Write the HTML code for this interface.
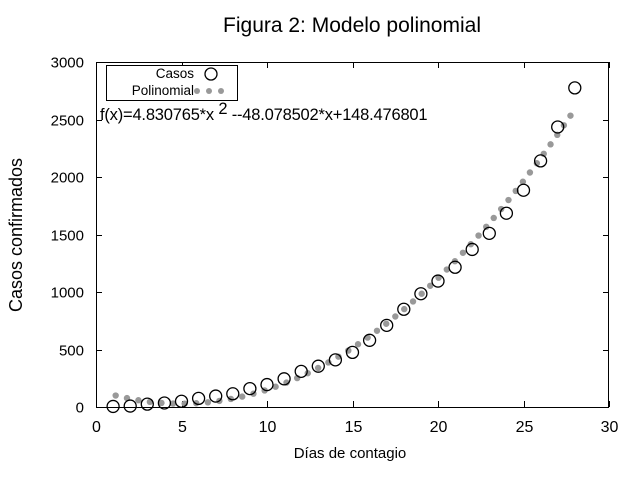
<!DOCTYPE html>
<html><head><meta charset="utf-8"><style>
html,body{margin:0;padding:0;background:#fff;}
svg{display:block;font-family:"Liberation Sans",Arial,sans-serif;}
</style></head><body>
<svg id="s" width="640" height="480" viewBox="0 0 640 480" xmlns="http://www.w3.org/2000/svg">
<text x="352" y="32" font-size="21" text-anchor="middle">Figura 2: Modelo polinomial</text>
<text transform="translate(22,235) rotate(-90)" font-size="18" text-anchor="middle">Casos confirmados</text>
<text x="350" y="458" font-size="15" text-anchor="middle">Días de contagio</text>
<g id="ax" stroke="#000" stroke-width="1" fill="none"></g>
<g id="lbl" font-size="16"></g>
<g id="pts"></g>
<rect x="106.5" y="65.5" width="131" height="35" fill="#fff" stroke="#000"/>
<text x="194" y="78" font-size="13.5" text-anchor="end">Casos</text>
<circle cx="211" cy="74" r="6" fill="none" stroke="#000" stroke-width="1.3"/>
<text x="194" y="95" font-size="13.5" text-anchor="end">Polinomial</text>
<circle cx="197" cy="91" r="3" fill="#999"/><circle cx="209" cy="91" r="3" fill="#999"/><circle cx="221" cy="91" r="3" fill="#999"/>
<text x="100" y="120" font-size="16.5" letter-spacing="-0.2">f(x)=4.830765*x<tspan dy="-6"> 2</tspan><tspan dy="6"> --48.078502*x+148.476801</tspan></text>
</svg>
<script>
var X0=96,X1=609,Y0=407,Y1=62;
function px(x){return X0+(X1-X0)*x/30;}
function py(y){return Y0-(Y0-Y1)*y/3000;}
var ns="http://www.w3.org/2000/svg";
function el(p,t,a,txt){var e=document.createElementNS(ns,t);for(var k in a)e.setAttribute(k,a[k]);if(txt!==undefined)e.textContent=txt;p.appendChild(e);return e;}
var ax=document.getElementById('ax'),lbl=document.getElementById('lbl'),pts=document.getElementById('pts');
el(ax,'rect',{x:X0+.5,y:Y1+.5,width:X1-X0-1,height:Y0-Y1});
for(var i=0;i<=30;i+=5){var x=Math.round(px(i))+.5;
 el(ax,'line',{x1:x,y1:Y0,x2:x,y2:Y0-6});el(ax,'line',{x1:x,y1:Y1,x2:x,y2:Y1+6});
 el(lbl,'text',{x:x,y:432,'text-anchor':'middle'},i);}
for(var j=0;j<=3000;j+=500){var y=Math.round(py(j))+.5;
 el(ax,'line',{x1:X0,y1:y,x2:X0+6,y2:y});el(ax,'line',{x1:X1,y1:y,x2:X1-6,y2:y});
 el(lbl,'text',{x:84,y:y+5,'text-anchor':'end','font-size':15},j);}
function f(x){return 4.830765*x*x-48.078502*x+148.476801;}
var x=1.15,last=[px(x),py(f(x))];el(pts,'circle',{cx:last[0],cy:last[1],r:3.2,fill:'#999'});
var acc=0,prev=last;
for(var t=1.15;t<=28;t+=0.002){var p=[px(t),py(f(t))];acc+=Math.hypot(p[0]-prev[0],p[1]-prev[1]);prev=p;
 if(acc>=11.6){el(pts,'circle',{cx:p[0],cy:p[1],r:3.2,fill:'#999'});acc=0;}}
var d=[5,8,25,35,50,75,95,115,160,195,245,310,355,410,475,580,710,850,985,1095,1215,1370,1510,1685,1885,2140,2435,2775];
d.forEach(function(v,k){el(pts,'circle',{cx:px(k+1),cy:py(v),r:6,fill:'none',stroke:'#000','stroke-width':1.3});});
</script>
</body></html>
